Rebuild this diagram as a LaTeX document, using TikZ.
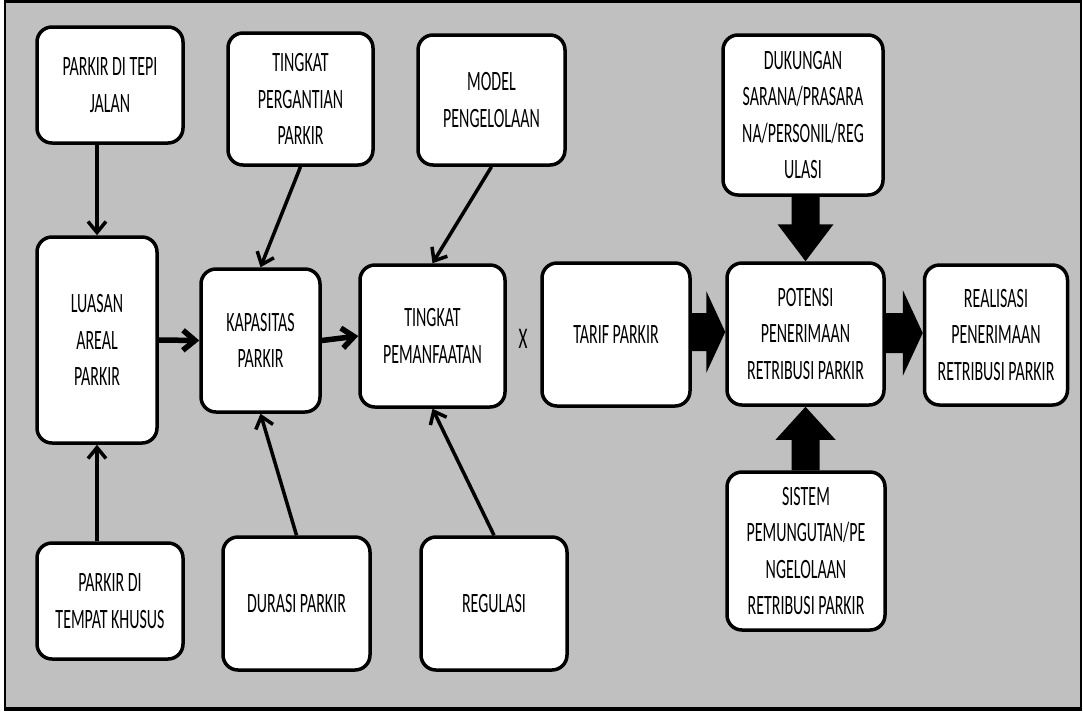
\documentclass[tikz,border=0pt]{standalone}
\usepackage{fontspec}
\setmainfont{Carlito}[FakeStretch=0.57]
\usetikzlibrary{arrows.meta,calc}
\definecolor{bggray}{HTML}{C0C0C0}
\tikzset{
  box/.style={draw=black, fill=white, line width=3.5pt, rounded corners=15pt,
    align=center, inner sep=0pt, font=\fontsize{28}{36.5}\selectfont},
  conn/.style={draw=black, line width=3.5pt, -{Straight Barb[length=11pt,width=18pt]}},
  thickconn/.style={draw=black, line width=5.5pt, -{Straight Barb[length=12pt,width=20pt]}},
  blockarrow/.style={fill=black},
  lbl/.style={font=\fontsize{30}{36}\selectfont, inner sep=0pt}
}
\begin{document}
\begin{tikzpicture}[x=1pt,y=-1pt]
\useasboundingbox (0,0) rectangle (1083,713);
\fill[white] (0,0) rectangle (1083,713);
\draw[fill=bggray, line width=2.5pt] (5,1.5) rectangle (1081,709);
\draw[line width=4pt] (4,709) -- (1082,709);

% top row
\node[box, minimum width=146pt, minimum height=116pt] (tepi) at (110,85) {PARKIR DI TEPI\\JALAN};
\node[box, minimum width=145pt, minimum height=132pt] (ganti) at (300.5,99) {TINGKAT\\PERGANTIAN\\PARKIR};
\node[box, minimum width=147pt, minimum height=130pt] (model) at (491.5,100) {MODEL\\PENGELOLAAN};
\node[box, minimum width=160pt, minimum height=160pt] (dukung) at (803,115) {DUKUNGAN\\SARANA/PRASARA\\NA/PERSONIL/REG\\ULASI};

% middle row
\node[box, minimum width=120pt, minimum height=206pt] (luas) at (97,340) {LUASAN\\AREAL\\PARKIR};
\node[box, minimum width=119pt, minimum height=143pt] (kap) at (260.5,340.5) {KAPASITAS\\PARKIR};
\node[box, minimum width=145pt, minimum height=142pt] (pem) at (432.5,336) {TINGKAT\\PEMANFAATAN};
\node[lbl] (x) at (523,339) {X};
\node[box, minimum width=148pt, minimum height=143pt] (tarif) at (616,334.5) {TARIF PARKIR};
\node[box, minimum width=157pt, minimum height=142pt] (pot) at (805.5,334) {POTENSI\\PENERIMAAN\\RETRIBUSI PARKIR};
\node[box, minimum width=143pt, minimum height=140pt] (real) at (996,335) {REALISASI\\PENERIMAAN\\RETRIBUSI PARKIR};

% bottom row
\node[box, minimum width=146pt, minimum height=116pt] (khusus) at (110,601) {PARKIR DI\\TEMPAT KHUSUS};
\node[box, minimum width=147pt, minimum height=133pt] (durasi) at (296.5,603.5) {DURASI PARKIR};
\node[box, minimum width=146pt, minimum height=133pt] (reg) at (494,603.5) {REGULASI};
\node[box, minimum width=158pt, minimum height=158pt] (sistem) at (806,551) {SISTEM\\PEMUNGUTAN/PE\\NGELOLAAN\\RETRIBUSI PARKIR};

% thin connectors
\draw[conn] (tepi.south -| luas.north) -- (luas.north);
\draw[conn] (khusus.north -| luas.south) -- (luas.south);
\draw[thickconn] (luas.east) -- (kap.west);
\draw[conn] (ganti.south) -- (kap.north);
\draw[conn] (durasi.north) -- (kap.south);
\draw[thickconn] (kap.east) -- (pem.west);
\draw[conn] (model.south) -- (pem.north);
\draw[conn] (reg.north) -- (pem.south);

% block arrows
\coordinate (a1) at (tarif.east);
\coordinate (a2) at ($(pot.west)+(0,-2)$);
\fill[blockarrow] ($(a1 |- a2)+(0,-19)$) -- ($(a2)+(-19,-19)$) -- ($(a2)+(-19,-41)$) -- (a2)
  -- ($(a2)+(-19,41)$) -- ($(a2)+(-19,19)$) -- ($(a1 |- a2)+(0,19)$) -- cycle;

\coordinate (b1) at (pot.east);
\coordinate (b2) at ($(real.west)+(0,-2)$);
\fill[blockarrow] ($(b1 |- b2)+(0,-20)$) -- ($(b2)+(-20,-20)$) -- ($(b2)+(-20,-43)$) -- (b2)
  -- ($(b2)+(-20,43)$) -- ($(b2)+(-20,20)$) -- ($(b1 |- b2)+(0,20)$) -- cycle;

\coordinate (c1) at (dukung.south -| pot.north);
\coordinate (c2) at (pot.north);
\fill[blockarrow] ($(c1)+(-14,0)$) -- ($(c2)+(-14,-37)$) -- ($(c2)+(-28,-37)$) -- (c2)
  -- ($(c2)+(28,-37)$) -- ($(c2)+(14,-37)$) -- ($(c1)+(14,0)$) -- cycle;

\coordinate (d1) at (sistem.north -| pot.south);
\coordinate (d2) at (pot.south);
\fill[blockarrow] ($(d1)+(-14,0)$) -- ($(d2)+(-14,33)$) -- ($(d2)+(-30,33)$) -- (d2)
  -- ($(d2)+(30,33)$) -- ($(d2)+(14,33)$) -- ($(d1)+(14,0)$) -- cycle;
\end{tikzpicture}
\end{document}
